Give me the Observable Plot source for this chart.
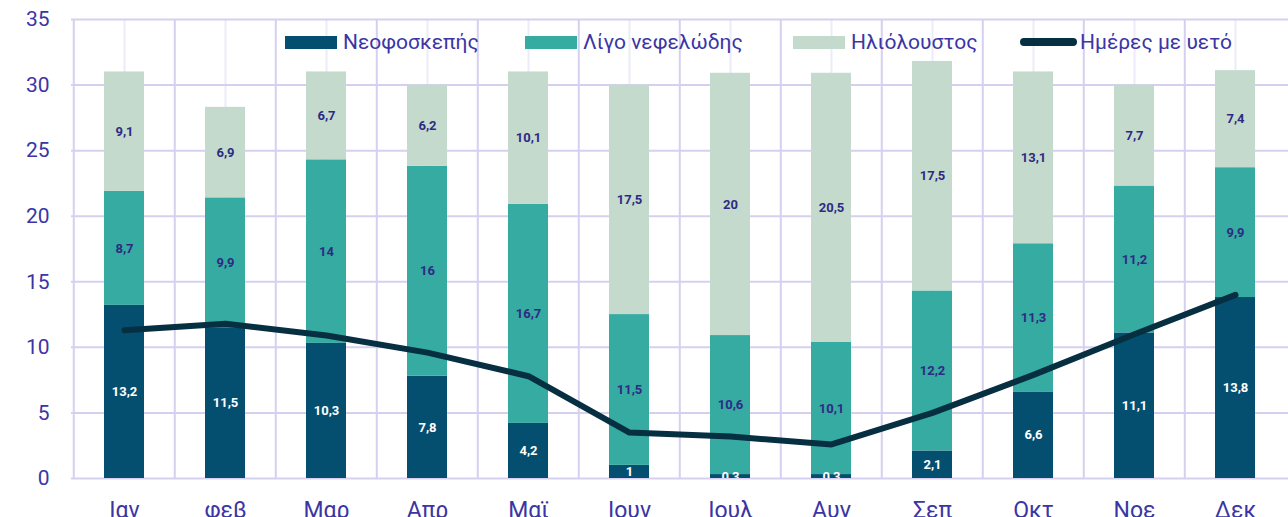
<!DOCTYPE html>
<html>
<head>
<meta charset="utf-8">
<script src="https://cdn.jsdelivr.net/npm/d3@7"></script>
<script src="https://cdn.jsdelivr.net/npm/@observablehq/plot@0.6"></script>
<style>
  body { margin: 0; background: #fff; }
  #wrap { position: relative; width: 1288px; height: 517px; overflow: hidden; font-family: Roboto, "Noto Sans", sans-serif; }
  .lg { position: absolute; top: 31px; display: flex; align-items: center; height: 22px; font-size: 21px; color: #3b35a5; white-space: nowrap; }
  .sw { width: 52px; height: 13px; margin-right: 6px; }
  .swl { width: 57px; height: 8px; border-radius: 4px; margin-right: 3px; }
</style>
</head>
<body>
<div id="wrap"></div>
<script>
const months = ["Ιαν", "φεβ", "Μαρ", "Απρ", "Μαϊ", "Ιουν", "Ιουλ", "Αυγ", "Σεπ", "Οκτ", "Νοε", "Δεκ"];
const overcast = [13.2, 11.5, 10.3, 7.8, 4.2, 1, 0.3, 0.3, 2.1, 6.6, 11.1, 13.8];
const partlyCloudy = [8.7, 9.9, 14, 16, 16.7, 11.5, 10.6, 10.1, 12.2, 11.3, 11.2, 9.9];
const sunny = [9.1, 6.9, 6.7, 6.2, 10.1, 17.5, 20, 20.5, 17.5, 13.1, 7.7, 7.4];
const rainDays = [11.3, 11.8, 10.9, 9.6, 7.8, 3.5, 3.2, 2.6, 5.0, 7.9, 11.0, 14.0];
const seriesNames = ["Νεοφοσκεπής", "Λίγο νεφελώδης", "Ηλιόλουστος"];
const lineName = "Ημέρες με υετό";
const yTicks = [0, 5, 10, 15, 20, 25, 30, 35];

const colors = ["#044f70", "#36aba1", "#c3dacd"];
const lineColor = "#062f41";
const textColor = "#3b35a5";
const labelDark = "#2e2a84";
const gridColor = "#d6d0f0";
const gridLight = "#ecebf9";

const W = 1288, H = 517;
const mL = 71, mR = 0, mT = 19, mB = 39;
const step = (W - mL - mR) / months.length;

const seriesArrays = [overcast, partlyCloudy, sunny];
const rows = [];
months.forEach((m, i) => {
  seriesArrays.forEach((arr, k) => rows.push({ month: m, series: seriesNames[k], k, value: arr[i] }));
});
const lineRows = months.map((m, i) => ({ month: m, rain: rainDays[i] }));
const fmt = v => String(v).replace(".", ",");

const chart = Plot.plot({
  width: W,
  height: H,
  marginLeft: mL,
  marginRight: mR,
  marginTop: mT,
  marginBottom: mB,
  style: { fontFamily: "Roboto, 'Noto Sans', sans-serif", color: textColor, background: "white", overflow: "hidden" },
  x: { domain: months, paddingInner: 0.6, paddingOuter: 0.3, label: null },
  y: { domain: [0, 35], label: null },
  color: { domain: seriesNames, range: colors },
  marks: [
    Plot.gridX({ stroke: gridLight, strokeOpacity: 1, strokeWidth: 2 }),
    Plot.ruleX(months, { x: d => d, dx: -step / 2, stroke: gridColor, strokeWidth: 2 }),
    Plot.gridY({ ticks: yTicks, stroke: gridColor, strokeOpacity: 1, strokeWidth: 2 }),
    Plot.barY(rows, Plot.stackY({ x: "month", y: "value", fill: "series", z: "series" })),
    Plot.line(lineRows, { x: "month", y: "rain", stroke: lineColor, strokeWidth: 6, strokeLinejoin: "round", strokeLinecap: "round" }),
    Plot.text(rows, Plot.filter(d => d.k === 0, Plot.stackY({ x: "month", y: "value", z: "series", text: d => fmt(d.value), fill: "white", fontWeight: "bold", fontSize: 13, clip: true }))),
    Plot.text(rows, Plot.filter(d => d.k !== 0, Plot.stackY({ x: "month", y: "value", z: "series", text: d => fmt(d.value), fill: labelDark, fontWeight: "bold", fontSize: 13, clip: true }))),
    Plot.axisY({ ticks: yTicks, tickSize: 0, tickPadding: 22, fontSize: 21, label: null }),
    Plot.axisX({ tickSize: 0, tickPadding: 23, fontSize: 23, label: null })
  ]
});

const wrap = document.getElementById("wrap");
wrap.appendChild(chart);

const legendItems = [
  { name: seriesNames[0], color: colors[0], left: 285, kind: "bar" },
  { name: seriesNames[1], color: colors[1], left: 525, kind: "bar" },
  { name: seriesNames[2], color: colors[2], left: 793, kind: "bar" },
  { name: lineName, color: lineColor, left: 1020, kind: "line" }
];
legendItems.forEach(it => {
  const d = document.createElement("div");
  d.className = "lg";
  d.style.left = it.left + "px";
  const s = document.createElement("div");
  s.className = it.kind === "bar" ? "sw" : "swl";
  s.style.background = it.color;
  const t = document.createElement("span");
  t.textContent = it.name;
  d.appendChild(s);
  d.appendChild(t);
  wrap.appendChild(d);
});
</script>
</body>
</html>
